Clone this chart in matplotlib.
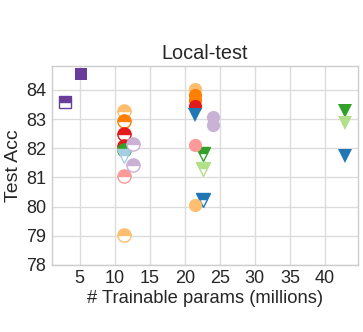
import matplotlib
matplotlib.use("Agg")
import matplotlib.pyplot as plt

plt.rcParams["font.family"] = ["Liberation Sans", "DejaVu Sans"]

# Data: (params in millions, accuracy)
C = {
    "lblue": "#a6cee3", "blue": "#1f78b4", "lgreen": "#b2df8a", "green": "#33a02c",
    "pink": "#fb9a99", "red": "#e31a1c", "lorange": "#fdbf6f", "orange": "#ff7f00",
    "lpurple": "#cab2d6", "purple": "#6a3d9a",
}

# half-filled markers (top filled)
half_x = [2.9, 11.3, 11.3, 11.3, 11.3, 11.3, 11.3, 11.3, 12.6, 12.6, 11.3, 22.6, 22.6, 22.6]
half_y = [83.59, 83.27, 82.93, 82.48, 82.07, 81.95, 81.72, 81.06, 82.15, 81.43, 79.03, 81.82, 81.30, 80.23]
half_c = ["purple", "lorange", "orange", "red", "red", "green", "lblue", "pink", "lpurple", "lpurple",
          "lorange", "green", "lgreen", "blue"]
half_m = ["s", "o", "o", "o", "o", "o", "v", "o", "o", "o", "o", "v", "v", "v"]

# full-filled markers
full_x = [5.2, 21.4, 21.4, 21.4, 21.4, 21.4, 24.0, 24.0, 21.4, 21.4, 42.9, 42.9, 42.9]
full_y = [84.54, 84.03, 83.82, 83.66, 83.45, 83.15, 83.08, 82.79, 82.11, 80.05, 83.28, 82.88, 81.74]
full_c = ["purple", "lorange", "orange", "orange", "red", "blue", "lpurple", "lpurple", "pink", "lorange",
          "green", "lgreen", "blue"]
full_m = ["s", "o", "o", "o", "o", "v", "o", "o", "o", "o", "v", "v", "v"]

xticks = [5, 10, 15, 20, 25, 30, 35, 40]
yticks = [78, 79, 80, 81, 82, 83, 84]

fig = plt.figure(figsize=(3.63, 3.32), dpi=100)
ax = fig.add_axes([0.142, 0.202, 0.844, 0.600])
ax.set_axisbelow(True)
ax.grid(True, color="#dcdcdc", linewidth=1.0)
for s in ax.spines.values():
    s.set_color("#cccccc")
    s.set_linewidth(1.0)

def ms(m):
    return 9.5 if m in ("o", "v") else 8.5

for x, y, c, m in zip(half_x, half_y, half_c, half_m):
    ax.plot([x], [y], marker=m, linestyle="none", markersize=ms(m), color=C[c],
            markeredgecolor=C[c], markerfacecolor=C[c], fillstyle="top",
            markerfacecoloralt="white", markeredgewidth=1.0)
for x, y, c, m in zip(full_x, full_y, full_c, full_m):
    ax.plot([x], [y], marker=m, linestyle="none", markersize=ms(m), color=C[c],
            markeredgecolor=C[c], markerfacecolor=C[c], markeredgewidth=0)

ax.set_xlim(1, 44.7)
ax.set_ylim(78, 84.83)
ax.set_xticks(xticks)
ax.set_yticks(yticks)
ax.tick_params(axis="both", length=0, labelsize=13, colors="#262626", pad=4)
ax.set_title("Local-test", fontsize=14.3, color="#262626", pad=5)
ax.set_xlabel("# Trainable params (millions)", fontsize=13.2, color="#262626", labelpad=2)
ax.set_ylabel("Test Acc", fontsize=14, color="#262626", labelpad=3)

fig.savefig("out.png", dpi=100)
